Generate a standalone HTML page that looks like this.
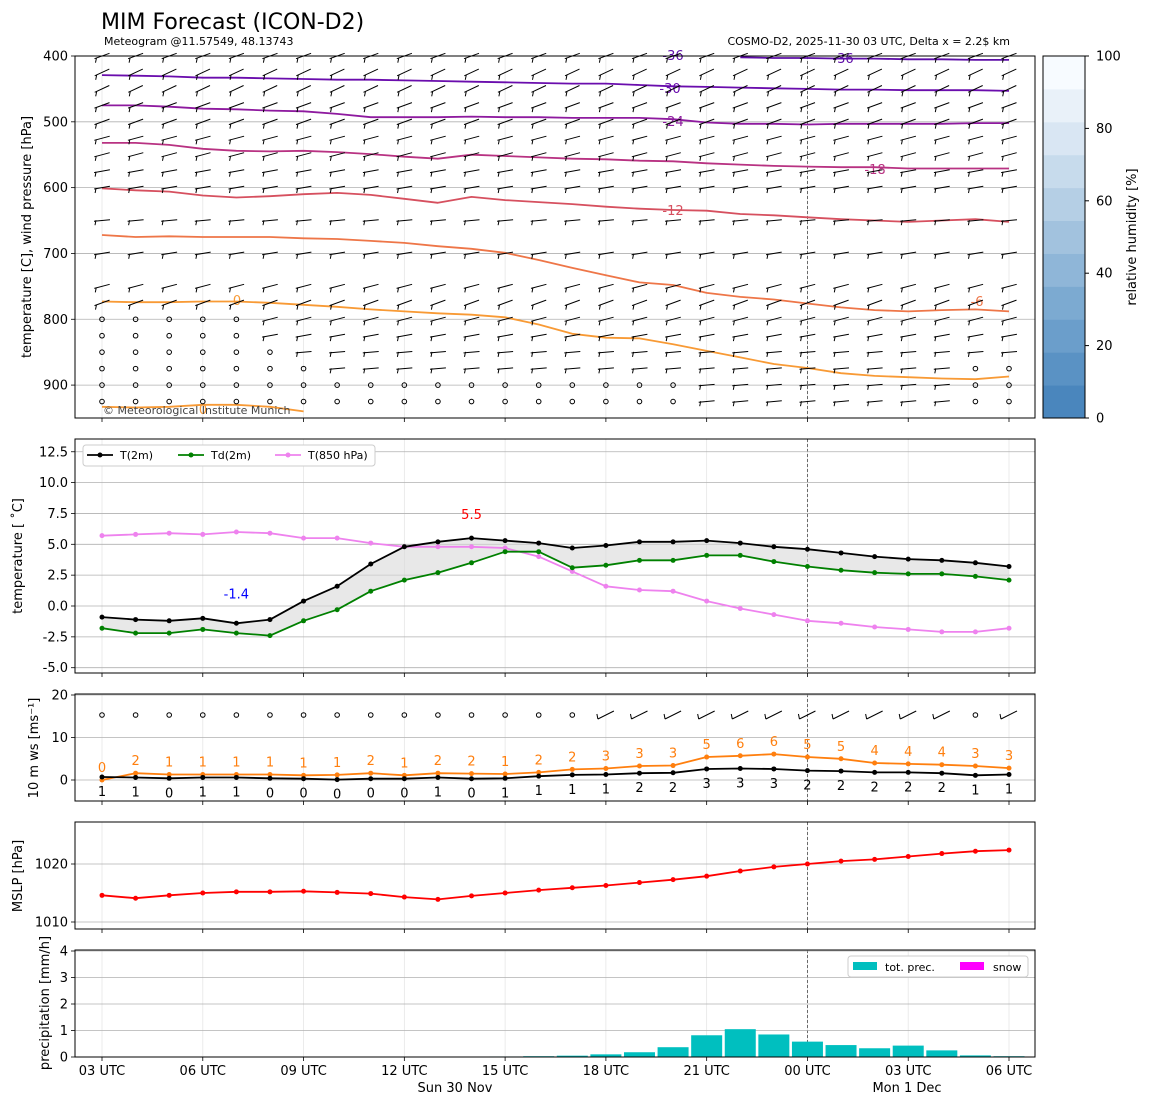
<!DOCTYPE html>
<html><head><meta charset="utf-8">
<style>
html,body{margin:0;padding:0;background:#fff;}
svg text{font-family:"DejaVu Sans","Liberation Sans",sans-serif;}
</style></head>
<body>
<svg id="chart" xmlns="http://www.w3.org/2000/svg" width="1150" height="1105" viewBox="0 0 1150 1105">
<text x="101" y="29" font-size="22">MIM Forecast (ICON-D2)</text>
<text x="104" y="45" font-size="11">Meteogram @11.57549, 48.13743</text>
<text x="1010" y="45" font-size="11" text-anchor="end">COSMO-D2, 2025-11-30 03 UTC, Delta x = 2.2$ km</text>
</svg>
<script>
// ---- data ----
const hours = [0,1,2,3,4,5,6,7,8,9,10,11,12,13,14,15,16,17,18,19,20,21,22,23,24,25,26,27];
const xTickLabels = ["03 UTC","06 UTC","09 UTC","12 UTC","15 UTC","18 UTC","21 UTC","00 UTC","03 UTC","06 UTC"];
const t2m = [-0.9,-1.1,-1.2,-1.0,-1.4,-1.1,0.4,1.6,3.4,4.8,5.2,5.5,5.3,5.1,4.7,4.9,5.2,5.2,5.3,5.1,4.8,4.6,4.3,4.0,3.8,3.7,3.5,3.2];
const td2m = [-1.8,-2.2,-2.2,-1.9,-2.2,-2.4,-1.2,-0.3,1.2,2.1,2.7,3.5,4.4,4.4,3.1,3.3,3.7,3.7,4.1,4.1,3.6,3.2,2.9,2.7,2.6,2.6,2.4,2.1];
const t850 = [5.7,5.8,5.9,5.8,6.0,5.9,5.5,5.5,5.1,4.8,4.8,4.8,4.7,4.0,2.8,1.6,1.3,1.2,0.4,-0.2,-0.7,-1.2,-1.4,-1.7,-1.9,-2.1,-2.1,-1.8];
const ws10 = [0.7,0.6,0.4,0.6,0.6,0.4,0.3,0.1,0.3,0.3,0.6,0.3,0.4,0.9,1.2,1.3,1.6,1.7,2.6,2.7,2.6,2.2,2.1,1.8,1.8,1.6,1.1,1.3];
const ws10Labels = [1,1,0,1,1,0,0,0,0,0,1,0,1,1,1,1,2,2,3,3,3,2,2,2,2,2,1,1];
const gust = [0.0,1.6,1.3,1.3,1.3,1.3,1.1,1.2,1.6,1.1,1.6,1.5,1.4,1.8,2.5,2.7,3.3,3.4,5.4,5.7,6.1,5.4,5.0,4.0,3.8,3.6,3.3,2.8];
const gustLabels = [0,2,1,1,1,1,1,1,2,1,2,2,1,2,2,3,3,3,5,6,6,5,5,4,4,4,3,3];
const mslp = [1014.6,1014.1,1014.6,1015.0,1015.2,1015.2,1015.3,1015.1,1014.9,1014.3,1013.9,1014.5,1015.0,1015.5,1015.9,1016.3,1016.8,1017.3,1017.9,1018.8,1019.5,1020.0,1020.5,1020.8,1021.3,1021.8,1022.2,1022.4];
const precip = [0,0,0,0,0,0,0,0,0,0,0,0,0.02,0.03,0.05,0.1,0.18,0.37,0.82,1.05,0.85,0.58,0.45,0.33,0.43,0.25,0.06,0.03];
const cHours = [0,1,2,3,4,5,6,7,8,9,10,11,12,13,14,15,16,17,18,19,20,21,22,23,24,25,26,27];
const cm36 = [null,null,null,null,null,null,null,null,null,null,null,null,null,null,null,null,null,null,null,402,403,403,404,404,405,405,406,406];
const cm30 = [429,430,431,433,433,434,435,436,436,437,438,439,440,441,442,442,444,446,447,448,449,450,451,451,452,452,452,453];
const cm24 = [475,475,477,480,481,483,484,488,493,493,493,492,493,493,494,494,494,496,501,503,503,504,503,503,503,503,502,502];
const cm18 = [532,532,535,541,544,545,544,546,549,553,556,550,552,554,556,557,559,560,563,565,567,568,569,569,571,571,571,571];
const cm12 = [601,604,606,612,615,613,610,608,611,617,623,614,619,622,625,629,632,634,635,640,642,645,648,650,652,650,648,652];
const cm6 = [672,675,674,675,675,675,677,678,681,684,689,693,699,710,722,733,744,748,760,766,770,776,782,786,788,786,785,788];
const c0 = [773,774,774,773,773,775,778,781,785,788,791,793,797,808,822,828,829,838,848,858,868,874,882,886,888,890,891,887];
const c0low = [933,934,933,930,930,933,940,null,null,null,null,null,null,null,null,null,null,null,null,null,null,null,null,null,null,null,null,null];
const barbLevels = [400,425,450,475,500,525,550,575,600,650,700,750,775,800,825,850,875,900,925];
const barbDirDeg = [20,25,25,20,20,15,15,10,10,5,10,15,20,15,10,5,5,5,5];
const calmFromLevel = [800,800,800,800,800,850,875,900,900,900,900,900,900,900,900,900,900,900,999,999,999,999,999,999,999,999,875,875];
// ---- helpers ----
const svg = document.getElementById('chart');
const NS = 'http://www.w3.org/2000/svg';
function mk(tag, attrs, parent){const e=document.createElementNS(NS,tag);for(const k in attrs)e.setAttribute(k,attrs[k]);(parent||svg).appendChild(e);return e;}
const X0=75, X1=1035;
const x = h => 102 + h*(1009-102)/27;
const P1={top:56,bot:418}; const yP = p => 56 + (p-400)*(362/550);
const P2={top:439,bot:673}; const yT = v => 606 - v*12.34;
const P3={top:694,bot:801}; const yW = v => 780 - v*4.25;
const P4={top:822,bot:929}; const yM = v => 864 - (v-1020)*5.8;
const P5={top:950,bot:1057}; const yR = v => 1057 - v*26.5;

function frame(P){
  for(let i=0;i<xTickLabels.length;i++){
    const xx=x(i*3);
    const g=mk('line',{x1:xx,x2:xx,y1:P.top,y2:P.bot,stroke:'#e6e6e6','stroke-width':0.8});
    
    
    const t=mk('line',{x1:xx,x2:xx,y1:P.bot,y2:P.bot+4,stroke:'#000','stroke-width':0.8});
    
    
  }
  const v=mk('line',{x1:x(21),x2:x(21),y1:P.top,y2:P.bot,stroke:'#333','stroke-width':0.7,'stroke-dasharray':'3,2'});
  
  
}
function border(P,name){
  const r=mk('rect',{x:X0,y:P.top,width:X1-X0,height:P.bot-P.top,fill:'none',stroke:'#000','stroke-width':1});
  
  
}
function yTicks(P,vals,fy,fmt){
  vals.forEach(v=>{
    const yy=fy(v);
    const g=mk('line',{x1:X0,x2:X1,y1:yy,y2:yy,stroke:'#b0b0b0','stroke-width':0.8});
    
    
    const t=mk('line',{x1:X0-4,x2:X0,y1:yy,y2:yy,stroke:'#000','stroke-width':0.8});
    
    
    const l=mk('text',{x:X0-7,y:yy+4.5,'font-size':13,'text-anchor':'end'});
    l.textContent=fmt(v);
    
    
  });
}
function yTitle(txt,cx,cy,name){
  const t=mk('text',{x:cx,y:cy,'font-size':13,'text-anchor':'middle',transform:`rotate(-90 ${cx} ${cy})`});
  t.textContent=txt;
  
  
}
function line(xs,ys,color,name,marker,w){
  let d='';let pen=false;
  xs.forEach((h,i)=>{const v=ys[i];if(v==null){pen=false;return;}d+=(pen?'L':'M')+x(h).toFixed(1)+' '+v.toFixed(1)+' ';pen=true;});
  const p=mk('path',{d,fill:'none',stroke:color,'stroke-width':w||2,'stroke-linejoin':'round'});
  
  
  if(marker){xs.forEach((h,i)=>{if(ys[i]==null)return;const c=mk('circle',{cx:x(h),cy:ys[i],r:2.5,fill:color});
    
    });}
}
function label(txt,xx,yy,color,size,name,anchor){
  const t=mk('text',{x:xx,y:yy,'font-size':size,fill:color,'text-anchor':anchor||'middle'});
  t.textContent=txt;
  
  
}

// ---- panel 1 ----
frame(P1);
yTicks(P1,[400,500,600,700,800,900],yP,v=>v);
const cdefs=[[cm36,'#5e0ea8'],[cm30,'#6a0dad'],[cm24,'#8e1a9f'],[cm18,'#b83282'],[cm12,'#d6505f'],[cm6,'#ee7648'],[c0,'#f89a35'],[c0low,'#f89a35']];
cdefs.forEach(([arr,col],k)=>line(cHours,arr.map(p=>p==null?null:yP(p)),col,'temperature-contour-'+k,false,1.8));
label('-36',673,60,'#5e0ea8',13,'contour-label');
label('-36',843,63,'#5e0ea8',13,'contour-label');
label('-30',670,93,'#6a0dad',13,'contour-label');
label('-24',673,126,'#8e1a9f',13,'contour-label');
label('-18',875,174,'#b83282',13,'contour-label');
label('-12',673,215,'#d6505f',13,'contour-label');
label('-6',977,306,'#ee7648',13,'contour-label');
label('0',237,305,'#f89a35',13,'contour-label');
label('0',203,414,'#f89a35',13,'contour-label');
hours.forEach((h,i)=>{
  barbLevels.forEach((p,j)=>{
    const xx=x(h), yy=yP(p);
    if(p>=calmFromLevel[i]){
      const c=mk('circle',{cx:xx,cy:yy,r:2.3,fill:'none',stroke:'#000','stroke-width':1});
      
      
    } else {
      const a=barbDirDeg[j]*Math.PI/180, L=8;
      const dx=L*Math.cos(a), dy=-L*Math.sin(a);
      const bx=xx-dx, by=yy-dy;
      const d=`M${(xx+dx).toFixed(1)} ${(yy+dy).toFixed(1)} L${bx.toFixed(1)} ${by.toFixed(1)} M${(bx+2).toFixed(1)} ${(by-1).toFixed(1)} L${(bx+1).toFixed(1)} ${(by+4).toFixed(1)}`;
      const b=mk('path',{d,stroke:'#000','stroke-width':1,fill:'none'});
      
      
    }
  });
});
label('© Meteorological Institute Munich',103,414,'#444',11,'copyright','start');
border(P1,'upper-air-panel');
yTitle('temperature [C], wind pressure [hPa]',31,237,'upper-air-y-title');
const cbCols=['#4a86bd','#5a92c4','#6b9ecb','#7caad1','#8fb6d8','#a2c2de','#b5cfe5','#c7dbec','#d9e6f3','#e9f1f9','#f7fbff'];
const cbY = v => 418 - v*3.62;
for(let i=0;i<11;i++){
  const r=mk('rect',{x:1043,y:cbY((i+1)*(100/11)),width:42,height:362/11+0.5,fill:cbCols[i]});
  
  
}
const cbb=mk('rect',{x:1043,y:56,width:42,height:362,fill:'none',stroke:'#000','stroke-width':1});


[0,20,40,60,80,100].forEach(v=>{
  const yy=cbY(v);
  mk('line',{x1:1085,x2:1089,y1:yy,y2:yy,stroke:'#000'});
  label(String(v),1096,yy+4.5,'#000',13,'colorbar-tick-label','start');
});
yTitle('relative humidity [%]',1136,237,'colorbar-title');

// ---- panel 2 ----
frame(P2);
yTicks(P2,[12.5,10,7.5,5,2.5,0,-2.5,-5],yT,v=>v.toFixed(1));
let fd='';hours.forEach((h,i)=>{fd+=(i?'L':'M')+x(h)+' '+yT(t2m[i])+' ';});
for(let i=hours.length-1;i>=0;i--)fd+='L'+x(hours[i])+' '+yT(td2m[i])+' ';
const fill=mk('path',{d:fd+'Z',fill:'#d8d8d8','fill-opacity':0.6,stroke:'none'});


line(hours,t850.map(yT),'#ee82ee','t850-line',true,1.8);
line(hours,td2m.map(yT),'#008000','td2m-line',true,1.8);
line(hours,t2m.map(yT),'#000','t2m-line',true,1.8);
const imax=t2m.indexOf(Math.max(...t2m)), imin=t2m.indexOf(Math.min(...t2m));
label(Math.max(...t2m).toFixed(1),x(imax),yT(t2m[imax])-19,'#ff0000',13,'max-temp-label');
label(Math.min(...t2m).toFixed(1),x(imin),yT(t2m[imin])-25,'#0000ff',13,'min-temp-label');
const lg=mk('rect',{x:83,y:445,width:292,height:21,fill:'#fff',stroke:'#ccc',rx:3});


[['T(2m)','#000',87],['Td(2m)','#008000',178],['T(850 hPa)','#ee82ee',275]].forEach(([n,c,lx])=>{
  mk('line',{x1:lx,x2:lx+26,y1:455,y2:455,stroke:c,'stroke-width':1.8});
  mk('circle',{cx:lx+13,cy:455,r:2.5,fill:c});
  label(n,lx+33,459,'#000',11,'legend-entry','start');
});
border(P2,'temperature-panel');
yTitle('temperature [ ˚C]',22,556,'temperature-y-title');

// ---- panel 3 ----
frame(P3);
yTicks(P3,[20,10,0],yW,v=>v);
hours.forEach((h,i)=>{
  const xx=x(h), yy=715;
  if(i<15||i===26){const c=mk('circle',{cx:xx,cy:yy,r:2.3,fill:'none',stroke:'#000','stroke-width':1});
    
    }
  else{const b=mk('path',{d:`M${xx-8} ${yy+4} L${xx+8} ${yy-4} M${xx-8} ${yy+4} L${xx-9} ${yy-1}`,stroke:'#000',fill:'none','stroke-width':1});
    
    }
});
line(hours,gust.map(yW),'#ff7f0e','gust-line',true,1.8);
line(hours,ws10.map(yW),'#000','wind-speed-line',true,1.8);
hours.forEach((h,i)=>{
  label(String(gustLabels[i]),x(h),yW(gust[i])-8,'#ff7f0e',13,'gust-value-label');
  label(String(ws10Labels[i]),x(h),yW(ws10[i])+19,'#000',13,'wind-value-label');
});
border(P3,'wind-panel');
yTitle('10 m ws [ms⁻¹]',38,748,'wind-y-title');

// ---- panel 4 ----
frame(P4);
yTicks(P4,[1020,1010],yM,v=>v);
line(hours,mslp.map(yM),'#ff0000','mslp-line',true,1.8);
border(P4,'pressure-panel');
yTitle('MSLP [hPa]',22,876,'mslp-y-title');

// ---- panel 5 ----
frame(P5);
yTicks(P5,[0,1,2,3,4],yR,v=>v);
hours.forEach((h,i)=>{
  if(precip[i]<=0)return;
  const r=mk('rect',{x:x(h)-15.5,y:yR(precip[i]),width:31,height:1057-yR(precip[i]),fill:'#00bfbf'});
  
  
});
const pl=mk('rect',{x:848,y:956,width:180,height:21,fill:'#fff',stroke:'#ccc',rx:3});


mk('rect',{x:853,y:962,width:24,height:8,fill:'#00bfbf'});
label('tot. prec.',885,971,'#000',11,'legend-entry','start');
mk('rect',{x:960,y:962,width:24,height:8,fill:'#ff00ff'});
label('snow',993,971,'#000',11,'legend-entry','start');
border(P5,'precip-panel');
yTitle('precipitation [mm/h]',49,1003,'precip-y-title');
xTickLabels.forEach((t,i)=>label(t,x(i*3),1075,'#000',13,'x-tick-label'));
label('Sun 30 Nov',455,1092,'#000',13,'date-label');
label('Mon 1 Dec',907,1092,'#000',13,'date-label');
</script>
</body></html>
